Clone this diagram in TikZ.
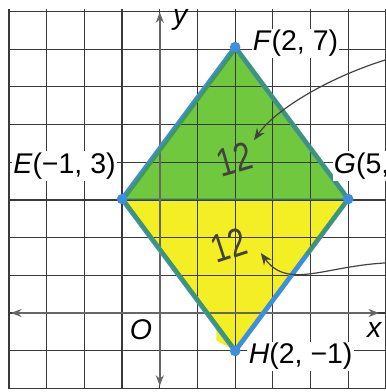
\documentclass[tikz,border=0pt]{standalone}
\usepackage{fontspec}
\setmainfont{Liberation Sans}
\usetikzlibrary{arrows.meta,calc}

\definecolor{hlgreen}{RGB}{112,200,62}
\definecolor{hlyellow}{RGB}{244,238,36}
\definecolor{penblue}{RGB}{62,142,222}
\definecolor{pengreen}{RGB}{64,150,104}
\definecolor{gridgray}{RGB}{58,58,58}
\definecolor{pencil}{RGB}{66,66,62}

\begin{document}
\begin{tikzpicture}[
  x=1cm, y=1.008cm,
  >=Stealth,
  gridline/.style={draw=gridgray, line width=0.9pt},
  axis/.style={draw=gray!80!black, line width=1.3pt, {Stealth[length=8pt,width=6pt]}-{Stealth[length=8pt,width=6pt]}},
  side/.style={line width=3.6pt, line cap=round},
  vdot/.style={circle, fill=penblue, inner sep=0pt, minimum size=8pt},
  lbl/.style={font=\fontsize{21.5}{24}\selectfont, fill=white, inner sep=1pt},
  hand/.style={font=\fontsize{30}{32}\selectfont, text=pencil, inner sep=0pt},
  arr/.style={-{Stealth[length=9pt,width=7pt]}, draw=pencil, line width=0.9pt},
]
\useasboundingbox (-4.24,-2.08) rectangle (6.0,8.24);
\clip (-4.24,-2.08) rectangle (6.0,8.24);

% Vertices.
\coordinate (E) at (-1,3);
\coordinate (F) at (2,7);
\coordinate (G) at (5,3);
\coordinate (H) at (2,-1);

% Highlighter.
\fill[hlgreen] (E) -- (F) -- (G) -- cycle;
\fill[hlyellow] (E) -- (G) -- (H) -- cycle;
\fill[hlyellow] (1.5,0) -- (1.5,-0.72) -- (H) -- (1.62,-0.2) -- cycle;

% Grid and axes.
\draw[gridline] (-4,-2) grid (6,8);
\draw[axis] (-3.95,0) -- (5.82,0);
\draw[axis] (0,-1.92) -- (0,7.92);

% Sides.
\draw[side, penblue] (E) -- (F) -- (G) -- (H) -- cycle;
\draw[side, pengreen, line width=2.6pt] (F) -- (G);
\draw[side, pengreen, line width=2.6pt] ([shift={(0.06,0.02)}]E) -- ([shift={(0.06,0.02)}]F);
\draw[side, pengreen, line width=2.6pt] ([shift={(0.05,-0.04)}]E) -- ([shift={(0.05,-0.04)}]H);
\draw[side, pengreen, line width=2.6pt] (G) -- ($(G)!0.35!(H)+(-0.04,-0.04)$);
\draw[pengreen, line width=1.4pt, opacity=0.6] (E) -- (G);

\node[vdot] (e) at (E) {};
\node[vdot] (f) at (F) {};
\node[vdot] (g) at (G) {};
\node[vdot] (h) at (H) {};

% Labels.
\node[lbl, anchor=west] (flbl) at (2.43,7.1) {\textit{F}(2, 7)};
\node[lbl, anchor=east] (elbl) at (-1.13,3.87) {\textit{E}(−1, 3)};
\node[lbl, anchor=west] (glbl) at (4.58,3.87) {\textit{G}(5, 3)};
\node[lbl, anchor=west] (hlbl) at (2.32,-1.14) {\textit{H}(2, −1)};
\node[lbl, fill=none] (ylbl) at (0.56,7.72) {\textit{y}};
\node[lbl, fill=none] (xlbl) at (5.7,-0.45) {\textit{x}};
\node[lbl, fill=none] (olbl) at (-0.5,-0.45) {\textit{O}};

% Handwriting.
\node[hand, rotate=16, xscale=0.78] (ntop) at (1.98,4.05) {12};
\node[hand, rotate=18, xscale=0.78] (nbot) at (1.83,1.79) {12};
\coordinate (src1) at (6.05,6.68);
\coordinate (src2) at (6.05,1.32);
\draw[arr] (src1) .. controls (4.6,6.25) and (3.1,5.4) .. (2.5,4.55);
\draw[arr] (src2) .. controls (4.4,1.25) and (3.4,0.6) .. (2.68,1.58);

\end{tikzpicture}
\end{document}
